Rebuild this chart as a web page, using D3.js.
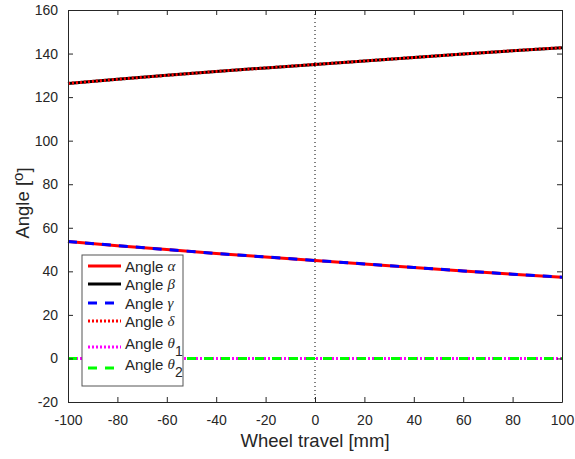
<!DOCTYPE html>
<html>
<head>
<meta charset="utf-8">
<script src="https://cdn.jsdelivr.net/npm/d3@7"></script>
<style>
  body { margin: 0; background: #fff; }
  svg { font-family: "Liberation Sans", Arial, sans-serif; }
</style>
</head>
<body>
<div id="chart"></div>
<script>
// Wheel travel samples [mm]
const travel = [-100, -80, -60, -40, -20, 0, 20, 40, 60, 80, 100];
// Angles [deg]
const angleBeta = [126.3, 128.2, 130.0, 131.8, 133.4, 135.0, 136.6, 138.2, 139.8, 141.3, 142.7];
const angleDelta = [126.3, 128.2, 130.0, 131.8, 133.4, 135.0, 136.6, 138.2, 139.8, 141.3, 142.7];
const angleAlpha = [53.7, 51.8, 50.0, 48.2, 46.6, 45.0, 43.4, 41.8, 40.2, 38.7, 37.3];
const angleGamma = [53.7, 51.8, 50.0, 48.2, 46.6, 45.0, 43.4, 41.8, 40.2, 38.7, 37.3];
const angleTheta1 = [0, 0, 0, 0, 0, 0, 0, 0, 0, 0, 0];
const angleTheta2 = [0, 0, 0, 0, 0, 0, 0, 0, 0, 0, 0];

const xTicks = [-100, -80, -60, -40, -20, 0, 20, 40, 60, 80, 100];
const yTicks = [-20, 0, 20, 40, 60, 80, 100, 120, 140, 160];

const series = [
  { name: "α", sub: null, values: angleAlpha, color: "#ff0000", dash: null, width: 3 },
  { name: "β", sub: null, values: angleBeta, color: "#000000", dash: null, width: 3 },
  { name: "γ", sub: null, values: angleGamma, color: "#0000ff", dash: "9,8", width: 3 },
  { name: "δ", sub: null, values: angleDelta, color: "#ff0000", dash: "2,2", width: 3 },
  { name: "θ", sub: "1", values: angleTheta1, color: "#ff00ff", dash: "2,2", width: 3 },
  { name: "θ", sub: "2", values: angleTheta2, color: "#00ff00", dash: "9,8", width: 3 }
];

const W = 575, H = 459;
const margin = { top: 10, right: 13, bottom: 57, left: 68 };
const width = W - margin.left - margin.right;
const height = H - margin.top - margin.bottom;
const axisColor = "#262626";

const svg = d3.select("#chart").append("svg")
  .attr("width", W)
  .attr("height", H);

const g = svg.append("g")
  .attr("transform", `translate(${margin.left},${margin.top})`);

const x = d3.scaleLinear().domain([-100, 100]).range([0, width]);
const y = d3.scaleLinear().domain([-20, 160]).range([height, 0]);

// Vertical dotted line at zero travel
g.append("line")
  .attr("x1", x(0)).attr("x2", x(0))
  .attr("y1", 0).attr("y2", height)
  .attr("stroke", "#000")
  .attr("stroke-width", 1)
  .attr("stroke-dasharray", "1,3");

// Series lines
const line = d3.line()
  .x((d, i) => x(travel[i]))
  .y(d => y(d));

series.forEach(s => {
  g.append("path")
    .datum(s.values)
    .attr("fill", "none")
    .attr("stroke", s.color)
    .attr("stroke-width", s.width)
    .attr("stroke-dasharray", s.dash)
    .attr("d", line);
});

// Axes with inward ticks (box on)
const tickLen = 5;
const plain = d => String(d);
const bottomAxis = g.append("g")
  .attr("transform", `translate(0,${height})`)
  .call(d3.axisBottom(x).tickValues(xTicks).tickFormat(plain).tickSizeInner(-tickLen).tickSizeOuter(0).tickPadding(13));
const leftAxis = g.append("g")
  .call(d3.axisLeft(y).tickValues(yTicks).tickFormat(plain).tickSizeInner(-tickLen).tickSizeOuter(0).tickPadding(10));
const topAxis = g.append("g")
  .call(d3.axisTop(x).tickValues(xTicks).tickSizeInner(-tickLen).tickSizeOuter(0).tickFormat(""));
const rightAxis = g.append("g")
  .attr("transform", `translate(${width},0)`)
  .call(d3.axisRight(y).tickValues(yTicks).tickSizeInner(-tickLen).tickSizeOuter(0).tickFormat(""));

[bottomAxis, leftAxis, topAxis, rightAxis].forEach(a => {
  a.select(".domain").attr("stroke", axisColor);
  a.selectAll(".tick line").attr("stroke", axisColor);
  a.selectAll(".tick text")
    .attr("fill", axisColor)
    .attr("font-size", "14px")
    .attr("font-family", "Liberation Sans, Arial, sans-serif");
});

// Axis labels
g.append("text")
  .attr("x", width / 2)
  .attr("y", height + 45)
  .attr("text-anchor", "middle")
  .attr("fill", axisColor)
  .attr("font-size", "18.5px")
  .text("Wheel travel [mm]");

const yLabel = g.append("text")
  .attr("transform", `translate(${-39},${height / 2 - 3}) rotate(-90)`)
  .attr("text-anchor", "middle")
  .attr("fill", axisColor)
  .attr("font-size", "18.5px");
yLabel.append("tspan").text("Angle [");
yLabel.append("tspan").attr("dy", "-0.4em").attr("font-size", "15px").text("o");
yLabel.append("tspan").attr("dy", "0.4em").text("]");

// Legend
const legendX = 82 - margin.left, legendY = 255 - margin.top;
const legendW = 101, legendH = 131;
const rowY = [11, 29, 48, 66, 92, 113];

const legend = g.append("g").attr("transform", `translate(${legendX},${legendY})`);
legend.append("rect")
  .attr("width", legendW)
  .attr("height", legendH)
  .attr("fill", "#fff")
  .attr("stroke", "#555")
  .attr("stroke-width", 1);

series.forEach((s, i) => {
  const ry = rowY[i];
  legend.append("line")
    .attr("x1", 6).attr("x2", 39)
    .attr("y1", ry).attr("y2", ry)
    .attr("stroke", s.color)
    .attr("stroke-width", s.width)
    .attr("stroke-dasharray", s.dash);
  const t = legend.append("text")
    .attr("x", 43)
    .attr("y", s.sub ? ry - 4 : ry)
    .attr("dominant-baseline", "central")
    .attr("fill", axisColor)
    .attr("font-size", "15px");
  t.append("tspan").text("Angle ");
  t.append("tspan")
    .attr("font-family", "Liberation Serif, serif")
    .attr("font-style", "italic")
    .attr("font-size", "15px")
    .text(s.name);
  if (s.sub) {
    t.append("tspan")
      .attr("dy", "0.55em")
      .attr("font-size", "14px")
      .text(s.sub);
  }
});
</script>
</body>
</html>
